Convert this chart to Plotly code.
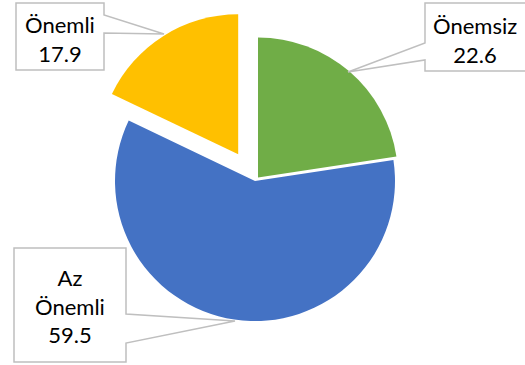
import plotly.graph_objects as go

labels = ["Önemsiz", "Az Önemli", "Önemli"]
values = [22.6, 59.5, 17.9]
colors = ["#70AD47", "#4472C4", "#FFC000"]
pulls = [0.033, 0.0, 0.225]
label_text = ["Önemsiz<br>22.6", "Az<br>Önemli<br>59.5", "Önemli<br>17.9"]

W, H = 525, 365
R, CX, CY = 140, 255, 181
HALF = R * (1 + max(pulls))

def px(x):
    return x / W

def py(y):
    return 1 - y / H

fig = go.Figure()
fig.add_trace(go.Pie(
    labels=labels, values=values, sort=False, direction="clockwise", rotation=0,
    marker=dict(colors=colors, line=dict(width=0)),
    pull=pulls, textinfo="none", hoverinfo="skip", showlegend=False,
    domain=dict(x=[px(CX - HALF), px(CX + HALF)], y=[py(CY + HALF), py(CY - HALF)]),
))

# callout outlines (box + pointer) in pixel positions
callouts = [
    [(425, 3), (530, 3), (530, 71), (425, 71), (425, 60), (348, 72), (425, 43)],
    [(14, 248), (126, 248), (126, 314), (235, 321), (126, 343), (126, 362), (14, 362)],
    [(16, 3), (104, 3), (104, 15), (164, 34), (104, 33), (104, 70), (16, 70)],
]
for pts in callouts:
    path = "M " + " L ".join(f"{px(x):.5f},{py(y):.5f}" for x, y in pts) + " Z"
    fig.add_shape(type="path", path=path, xref="paper", yref="paper",
                  line=dict(color="#BFBFBF", width=1.5), fillcolor="white", layer="above")

text_pos = [(475, 40), (70, 306), (60, 39)]
for t, (x, y) in zip(label_text, text_pos):
    fig.add_annotation(text=t, x=px(x), y=py(y), xref="paper", yref="paper",
                       xanchor="center", yanchor="middle", showarrow=False,
                       font=dict(family="Lato", size=22, color="#000000"))

fig.update_layout(width=W, height=H, margin=dict(l=0, r=0, t=0, b=0),
                  paper_bgcolor="white", plot_bgcolor="white")
fig.write_html("out.html")
